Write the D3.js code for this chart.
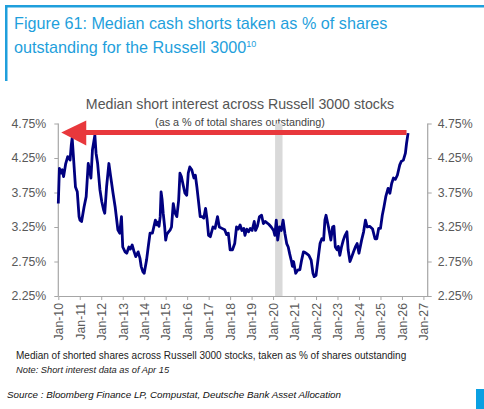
<!DOCTYPE html>
<html><head><meta charset="utf-8">
<script src="https://cdn.jsdelivr.net/npm/d3@7"></script>
<style>
html,body{margin:0;padding:0;background:#fff;}
svg{display:block;font-family:"Liberation Sans",Arial,sans-serif;}
</style></head>
<body>
<svg id="c" width="484" height="409"></svg>
<script>
const dates = ["2010-01-01","2010-01-20","2010-02-15","2010-03-10","2010-04-01","2010-05-05","2010-06-10","2010-07-20","2010-08-10","2010-08-25","2010-09-10","2010-10-20","2010-11-20","2010-12-20",
"2011-01-05","2011-02-01","2011-03-15","2011-04-20","2011-05-25","2011-06-15","2011-07-10","2011-08-05","2011-09-15","2011-10-05","2011-11-01","2011-12-10",
"2012-01-10","2012-02-10","2012-03-01","2012-04-01","2012-05-10","2012-06-10","2012-07-20","2012-08-25","2012-10-10","2012-11-10","2012-12-10",
"2013-01-01","2013-02-10","2013-03-10","2013-04-15","2013-05-10","2013-06-10","2013-07-10","2013-08-10","2013-09-20","2013-10-20","2013-11-10","2013-12-10",
"2014-01-01","2014-02-10","2014-03-10","2014-04-10","2014-05-20","2014-07-10","2014-08-01","2014-08-20","2014-09-10","2014-09-30","2014-10-15","2014-11-01","2014-11-20","2014-12-15",
"2015-01-01","2015-01-20","2015-02-20","2015-03-20","2015-04-10","2015-05-10","2015-06-10","2015-07-10","2015-08-10","2015-09-01","2015-09-25","2015-10-20","2015-11-25","2015-12-25",
"2016-01-20","2016-02-15","2016-03-20","2016-04-25","2016-05-20","2016-06-15","2016-07-10","2016-08-10","2016-09-10","2016-10-10","2016-11-10","2016-12-05","2016-12-30",
"2017-01-30","2017-03-15","2017-04-20","2017-06-01","2017-07-01","2017-08-15","2017-10-01","2017-11-01","2017-12-01",
"2018-01-01","2018-02-10","2018-03-20","2018-04-20","2018-05-20","2018-06-20","2018-07-20","2018-08-20","2018-09-10","2018-10-10","2018-11-10","2018-12-10",
"2019-01-10","2019-02-15","2019-03-10","2019-04-10","2019-05-15","2019-06-20","2019-07-20","2019-08-20","2019-09-20","2019-10-20","2019-12-01",
"2020-01-10","2020-02-01","2020-02-25","2020-03-20","2020-04-20","2020-05-20","2020-06-20","2020-07-20","2020-08-20","2020-09-15","2020-10-10","2020-11-10","2020-11-25","2020-12-15",
"2021-01-20","2021-03-01","2021-04-01","2021-05-01","2021-06-01","2021-07-01","2021-08-01","2021-09-01","2021-10-10","2021-11-10","2021-12-01",
"2022-01-01","2022-02-10","2022-03-10","2022-04-10","2022-05-10","2022-06-01","2022-06-20","2022-08-01","2022-09-10","2022-10-10","2022-11-01","2022-11-25","2022-12-25",
"2023-01-15","2023-02-10","2023-03-10","2023-04-10","2023-05-10","2023-06-10","2023-07-01","2023-08-01","2023-09-01","2023-10-01","2023-11-01","2023-12-01",
"2024-01-01","2024-02-15","2024-03-20","2024-04-20","2024-05-20","2024-07-01","2024-08-20","2024-09-30","2024-10-30","2024-12-01",
"2025-01-01","2025-02-01","2025-03-01","2025-04-01","2025-05-10","2025-06-10","2025-07-10","2025-08-10","2025-09-10","2025-10-15","2025-11-25","2025-12-20",
"2026-01-25","2026-03-01","2026-03-20","2026-04-15"];
const values = [3.59,4.10,4.03,4.08,3.98,4.16,4.27,4.22,4.44,4.54,4.34,3.83,3.76,3.40,
3.35,3.33,3.54,3.69,4.17,4.08,3.96,4.37,4.58,4.32,4.17,3.79,
3.62,3.50,3.45,3.83,4.17,3.98,3.74,3.54,3.21,3.16,3.40,
2.96,2.89,2.87,2.96,2.93,2.99,2.90,2.82,2.89,2.80,2.68,2.60,
2.58,2.77,2.96,3.16,3.16,3.35,3.28,3.32,3.26,3.40,3.76,3.65,3.45,3.25,
3.06,3.14,3.18,3.21,3.25,3.59,3.45,3.40,3.64,4.03,3.98,3.88,3.74,3.71,
4.03,4.12,4.08,3.96,4.00,3.83,3.64,3.40,3.40,3.38,3.52,3.36,3.13,
3.11,3.25,3.23,3.40,3.25,3.23,3.21,3.14,3.16,
2.92,2.92,3.01,3.25,3.22,3.28,3.20,3.23,3.13,3.22,3.18,3.23,
3.20,3.33,3.20,3.26,3.40,3.42,3.30,3.33,3.31,3.29,3.25,
3.20,3.13,3.35,3.06,3.25,3.20,3.35,3.16,3.01,2.96,2.86,2.75,2.68,2.75,
2.58,2.63,2.63,2.77,2.89,2.88,2.86,2.84,2.77,2.58,2.53,
2.55,2.82,3.01,3.08,3.06,3.35,3.42,3.25,3.06,3.25,3.26,2.96,2.92,
2.97,2.84,2.96,3.06,3.13,3.18,2.92,2.75,2.82,2.89,2.96,3.01,
2.87,3.06,3.18,3.35,3.25,3.26,3.22,3.08,3.08,3.23,
3.23,3.42,3.54,3.69,3.81,3.74,3.88,3.96,3.94,4.00,4.15,4.20,
4.22,4.32,4.46,4.61];
const yTicks = [2.25,2.75,3.25,3.75,4.25,4.75];
const xTickYears = [2010,2011,2012,2013,2014,2015,2016,2017,2018,2019,2020,2021,2022,2023,2024,2025,2026,2027];
const recession = ["2020-02-05","2020-06-10"];
const arrowFrom = "2026-03-20", arrowTo = "2010-02-20", arrowLevel = 4.62;

const parse = d3.timeParse("%Y-%m-%d");
const data = dates.map((d,i)=>({d:parse(d), v:values[i]}));

const svg = d3.select("#c");
const L = 58.3, R = 427.7, T = 123.5, B = 296;
const x = d3.scaleTime().domain([parse("2010-01-01"), parse("2027-03-15")]).range([L, R]);
const y = d3.scaleLinear().domain([2.25, 4.75]).range([B, T]);

const blue = "#1f9fdc";
// frame
svg.append("rect").attr("x",5).attr("y",5).attr("width",479).attr("height",2.5).attr("fill",blue);
svg.append("rect").attr("x",5).attr("y",5).attr("width",2.5).attr("height",76).attr("fill",blue);
svg.append("rect").attr("x",476).attr("y",389).attr("width",8).attr("height",20).attr("fill","#0aa0e2");

// title
const tt = svg.append("text").attr("x",14).attr("y",29).attr("fill",blue).attr("font-size",16.2);
tt.text("Figure 61: Median cash shorts taken as % of shares");
const t2 = svg.append("text").attr("x",14).attr("y",53).attr("fill",blue).attr("font-size",16.2);
t2.append("tspan").text("outstanding for the Russell 3000");
t2.append("tspan").attr("font-size",9).attr("dy",-6).text("10");

// chart titles
svg.append("text").attr("x",240).attr("y",109).attr("text-anchor","middle").attr("fill","#555").attr("font-size",14.2)
  .text("Median short interest across Russell 3000 stocks");
svg.append("text").attr("x",240).attr("y",126).attr("text-anchor","middle").attr("fill","#444").attr("font-size",10.8)
  .text("(as a % of total shares outstanding)");

// recession band
svg.append("rect").attr("x",x(parse(recession[0]))).attr("y",T).attr("width",x(parse(recession[1]))-x(parse(recession[0])))
  .attr("height",B-T).attr("fill","#d9d9d9");

// axes
const axCol = "#a6a6a6", txtCol = "#595959";
const fmt = d=>d.toFixed(2)+"%";
const gl = svg.append("g").attr("transform",`translate(${L},0)`)
  .call(d3.axisLeft(y).tickValues(yTicks).tickFormat(fmt).tickSize(4).tickPadding(8));
const gr = svg.append("g").attr("transform",`translate(${R},0)`)
  .call(d3.axisRight(y).tickValues(yTicks).tickFormat(fmt).tickSize(4).tickPadding(6));
const gb = svg.append("g").attr("transform",`translate(0,${B})`)
  .call(d3.axisBottom(x).tickValues(xTickYears.map(yr=>new Date(yr,0,1))).tickFormat(d3.timeFormat("Jan-%y")).tickSize(4).tickSizeOuter(0));
[gl,gr,gb].forEach(g=>{
  g.select(".domain").attr("stroke",axCol).attr("stroke-width",1.2);
  g.selectAll(".tick line").attr("stroke",axCol);
  g.selectAll(".tick text").attr("fill",txtCol).attr("font-size",12.3).attr("font-family","Liberation Sans, Arial, sans-serif");
});
gl.select(".domain").attr("d",`M0,${T}V${B}`);
gr.select(".domain").attr("d",`M0,${T}V${B}`);
gb.selectAll(".tick text").attr("transform","rotate(-90)").attr("text-anchor","end")
  .attr("x",-7).attr("y",0).attr("dy","0.35em");

// line
svg.append("path").datum(data).attr("fill","none").attr("stroke","#000080").attr("stroke-width",2.8)
  .attr("stroke-linejoin","round")
  .attr("d",d3.line().x(d=>x(d.d)).y(d=>y(d.v)));

// red arrow
const red = "#e8383c";
const ax0 = x(parse(arrowFrom)), ax1 = x(parse(arrowTo)), ay = y(arrowLevel);
svg.append("line").attr("x1",ax0).attr("x2",ax1+20).attr("y1",ay).attr("y2",ay).attr("stroke",red).attr("stroke-width",5);
svg.append("path").attr("d",`M${ax1},${ay}L${ax1+25},${ay-12}L${ax1+25},${ay+13}Z`).attr("fill",red);

// footer
svg.append("text").attr("x",16).attr("y",359).attr("fill","#222").attr("font-size",10).
  text("Median of shorted shares across Russell 3000 stocks, taken as % of shares outstanding");
svg.append("text").attr("x",16).attr("y",373).attr("fill","#222").attr("font-size",9.3).attr("font-style","italic")
  .text("Note: Short interest data as of Apr 15");
svg.append("text").attr("x",7).attr("y",398).attr("fill","#111").attr("font-size",9.8).attr("font-style","italic")
  .text("Source : Bloomberg Finance LP, Compustat, Deutsche Bank Asset Allocation");
</script>
</body></html>
